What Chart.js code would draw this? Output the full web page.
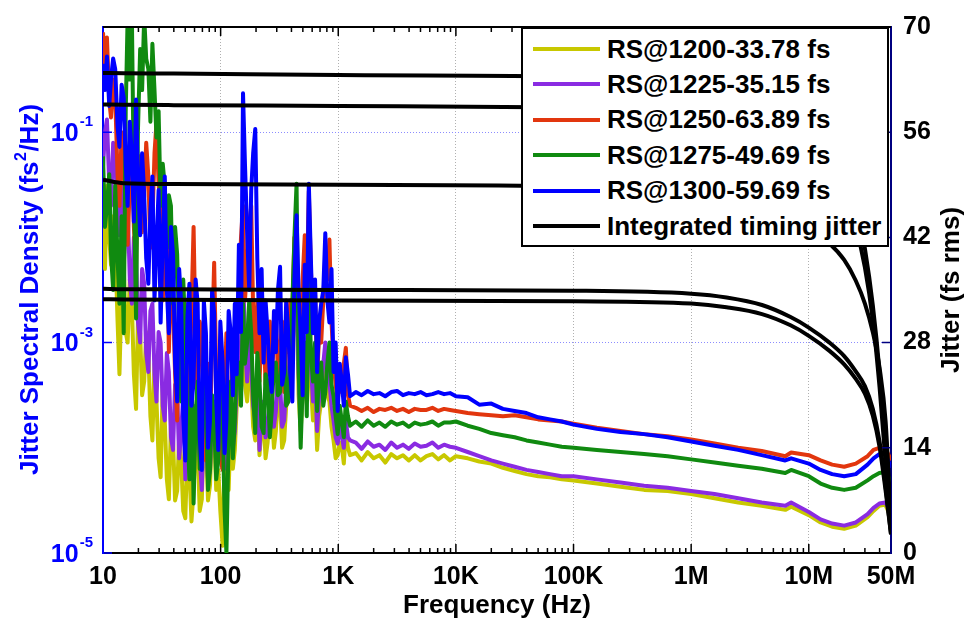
<!DOCTYPE html>
<html>
<head>
<meta charset="utf-8">
<script src="https://cdn.jsdelivr.net/npm/chart.js@4/dist/chart.umd.min.js"></script>
<style>
  body { margin: 0; background: #fff; }
  #wrap { position: relative; width: 965px; height: 621px; }
  #legend { position: absolute; left: 521px; top: 27px; width: 364px; height: 216px;
            border: 2px solid #000; background: #fff;
            font: bold 26px "Liberation Sans", Arial, sans-serif; color: #000; }
  .row { position: absolute; left: 10px; height: 36px; display: flex; align-items: center; white-space: nowrap; }
  .swatch { width: 67px; height: 4px; margin-right: 7px; }
</style>
</head>
<body>
<div id="wrap">
  <canvas id="chart" width="965" height="621"></canvas>
  <div id="legend"></div>
</div>
<script>
const FONT = '"Liberation Sans", Arial, sans-serif';

// Frequencies (Hz) shared by all spectral density traces
const psdFreq = [10, 10.4, 10.8, 11.3, 11.7, 12.2, 12.7, 13.3, 13.8, 14.4,
  15.0, 15.6, 16.2, 16.9, 17.6, 18.3, 19.1, 19.8, 20.7, 21.5,
  22.4, 23.3, 24.3, 25.3, 26.3, 27.4, 28.5, 29.7, 30.9, 32.2,
  33.5, 34.9, 36.3, 37.8, 39.4, 41.0, 42.7, 44.4, 46.2, 48.1,
  50.1, 52.2, 54.3, 56.5, 58.9, 61.3, 63.8, 66.4, 69.2, 72.0,
  75.0, 78.1, 81.3, 84.6, 88.1, 91.7, 95.5, 99.4, 104, 108,
  112, 117, 122, 127, 132, 137, 143, 149, 155, 161,
  168, 175, 182, 189, 197, 205, 214, 223, 232, 241,
  251, 262, 272, 284, 295, 307, 320, 333, 347, 361,
  376, 391, 407, 424, 442, 460, 479, 498, 519, 540,
  562, 585, 610, 635, 661, 688, 716, 746, 776, 808,
  841, 876, 912, 950, 989, 1030, 1070, 1115, 1160, 1209, 1260,
  1410, 1580, 1780, 2000, 2240, 2510, 2820, 3160, 3550, 3980, 4470, 5010, 5620, 6310, 7080, 7940, 8910, 1e4,
  1.26e4, 1.58e4, 2e4, 2.51e4, 3.16e4, 3.98e4, 5.01e4, 6.31e4, 7.94e4, 1e5,
  1.58e5, 2.51e5, 3.98e5, 6.31e5, 1e6, 1.58e6, 2.51e6, 3.98e6, 6.31e6, 7.08e6,
  1e7, 1.26e7, 1.58e7, 2e7, 2.51e7, 3.16e7, 3.55e7, 3.98e7, 4.47e7, 5e7];

// log10 of jitter spectral density (fs^2/Hz), one value per frequency above
const psd1200 = [-1.70, -2.30, -1.51, -2.00, -2.26, -1.80, -2.07, -2.80, -3.30, -2.50,
  -2.26, -2.90, -3.00, -2.40, -2.63, -3.30, -3.63, -2.80, -2.91, -3.50,
  -3.37, -2.90, -3.09, -3.70, -3.93, -3.20, -3.56, -4.10, -4.28, -3.40,
  -3.74, -4.30, -4.49, -3.80, -3.93, -4.50, -4.41, -3.90, -4.12, -4.60,
  -4.67, -4.00, -4.21, -4.70, -4.41, -3.90, -4.02, -4.60, -4.49, -3.90,
  -3.93, -4.50, -4.35, -3.80, -3.84, -4.40, -4.21, -4.60, -4.93, -4.10,
  -4.02, -4.40, -3.74, -4.20, -4.02, -3.60, -3.56, -3.20, -2.60, -3.40,
  -3.56, -3.10, -3.37, -3.80, -3.93, -3.50, -4.07, -3.80, -3.74, -4.10,
  -3.95, -3.60, -3.65, -4.00, -3.84, -3.50, -3.56, -4.00, -3.93, -3.60,
  -3.56, -3.20, -3.09, -2.70, -2.44, -3.50, -3.84, -3.50, -3.37, -3.20,
  -2.81, -3.40, -3.74, -3.50, -4.02, -3.70, -3.56, -3.40, -3.19, -3.50,
  -3.56, -3.80, -3.93, -4.10, -4.07, -3.95, -3.98, -4.15, -3.84, -4.00, -4.07,
  -4.05, -4.12, -4.04, -4.10, -4.07, -4.14, -4.06, -4.10, -4.07, -4.12, -4.07, -4.12, -4.08, -4.06, -4.11, -4.07, -4.12, -4.08,
  -4.10, -4.13, -4.15, -4.19, -4.22, -4.25, -4.27, -4.28, -4.30, -4.31,
  -4.34, -4.37, -4.40, -4.41, -4.44, -4.48, -4.52, -4.55, -4.59, -4.56,
  -4.64, -4.71, -4.75, -4.77, -4.74, -4.66, -4.60, -4.55, -4.54, -4.66];
const psd1225 = [-1.33, -1.00, -0.88, -1.50, -1.70, -1.10, -1.23, -1.80, -1.98, -1.50,
  -2.26, -1.90, -1.70, -2.40, -2.63, -2.00, -2.16, -2.80, -3.00, -2.30,
  -2.44, -3.10, -3.28, -2.70, -2.63, -3.30, -3.56, -2.90, -3.00, -3.60,
  -3.74, -3.10, -3.28, -3.90, -4.02, -3.40, -3.47, -4.10, -3.84, -3.50,
  -4.30, -3.70, -3.56, -4.30, -4.21, -3.60, -3.74, -4.10, -4.40, -3.70,
  -3.84, -4.30, -4.21, -3.60, -3.56, -4.10, -4.02, -3.50, -3.65, -4.20,
  -4.12, -3.60, -3.56, -4.00, -3.84, -3.40, -3.37, -3.00, -2.30, -3.00,
  -3.37, -2.80, -3.19, -3.60, -3.74, -3.30, -4.02, -3.60, -3.56, -3.90,
  -3.84, -3.50, -3.47, -3.80, -3.65, -3.30, -3.37, -3.80, -3.74, -3.40,
  -3.37, -3.00, -2.91, -2.50, -2.26, -3.30, -3.74, -3.40, -3.19, -3.00,
  -2.63, -3.20, -3.56, -3.30, -3.84, -3.50, -3.47, -3.20, -3.00, -3.30,
  -3.37, -3.60, -3.74, -3.90, -3.96, -3.80, -3.88, -4.00, -3.74, -3.90, -3.93,
  -3.95, -4.01, -3.94, -3.99, -3.97, -4.02, -3.95, -4.00, -3.97, -4.01, -3.96, -3.99, -3.98, -3.95, -4.00, -3.97, -3.99, -4.00,
  -4.04, -4.08, -4.12, -4.15, -4.18, -4.21, -4.23, -4.25, -4.27, -4.27,
  -4.30, -4.33, -4.36, -4.38, -4.41, -4.44, -4.48, -4.52, -4.55, -4.52,
  -4.61, -4.68, -4.72, -4.74, -4.71, -4.63, -4.57, -4.53, -4.52, -4.61];
const psd1250 = [-0.05, -0.40, -0.10, -0.70, -0.86, -0.50, -0.67, -1.40, -1.70, -1.00,
  -1.33, -1.80, -2.07, -1.50, -1.14, -1.90, -2.26, -1.30, -1.23, -1.95,
  -1.60, -1.10, -1.42, -2.10, -1.88, -1.20, -0.91, -1.50, -1.70, -2.60,
  -2.44, -1.90, -3.09, -2.30, -2.63, -3.30, -3.74, -2.50, -2.91, -3.40,
  -2.63, -3.80, -3.37, -2.70, -1.90, -3.00, -3.56, -2.80, -2.91, -3.70,
  -4.12, -3.20, -3.84, -3.00, -2.24, -3.30, -3.37, -4.10, -4.21, -3.50,
  -2.91, -3.90, -3.74, -3.00, -3.09, -2.60, -2.63, -2.00, -1.70, -2.60,
  -2.26, -1.90, -1.70, -2.70, -3.09, -2.60, -3.37, -2.90, -2.81, -3.40,
  -3.19, -2.80, -3.28, -3.00, -2.72, -3.30, -3.09, -2.80, -3.47, -3.00,
  -3.09, -2.60, -2.72, -2.00, -2.16, -2.70, -3.00, -2.40, -1.98, -2.50,
  -1.56, -2.30, -2.81, -2.50, -3.37, -2.90, -3.00, -2.60, -2.16, -2.40,
  -2.02, -2.80, -3.19, -3.40, -3.56, -3.30, -3.47, -3.20, -3.05, -3.50, -3.60,
  -3.62, -3.65, -3.62, -3.66, -3.63, -3.64, -3.62, -3.65, -3.63, -3.66, -3.63, -3.64, -3.64, -3.62, -3.65, -3.63, -3.64, -3.65,
  -3.67, -3.68, -3.69, -3.70, -3.69, -3.71, -3.73, -3.74, -3.75, -3.77,
  -3.81, -3.84, -3.87, -3.89, -3.92, -3.96, -4.00, -4.03, -4.08, -4.045,
  -4.07, -4.12, -4.16, -4.18, -4.15, -4.08, -4.02, -4.00, -4.00, -4.12];
const psd1275 = [-1.23, -1.90, -1.70, -1.40, -2.16, -2.50, -1.51, -2.20, -2.63, -1.80,
  -2.91, -0.80, 0.1, -0.50, 0.1, -1.50, -2.77, -1.00, -0.21, -0.60,
  0.1, -0.30, -0.40, -0.90, -0.16, -0.60, -1.05, -0.80, -1.70, -1.30,
  -1.51, -2.10, -1.60, -1.70, -2.63, -1.90, -2.16, -2.90, -3.56, -2.40,
  -2.91, -3.80, -4.30, -3.20, -4.53, -3.70, -3.37, -4.20, -4.02, -3.30,
  -3.56, -4.40, -4.21, -3.50, -3.74, -4.30, -4.12, -3.30, -3.74, -4.60,
  -5.00, -3.90, -3.37, -4.10, -3.74, -3.20, -3.19, -3.60, -2.63, -3.20,
  -3.00, -2.60, -2.91, -3.50, -3.86, -3.10, -3.37, -3.80, -3.86, -3.30,
  -3.37, -3.90, -3.65, -3.20, -3.19, -3.50, -3.47, -3.00, -3.05, -3.60,
  -3.56, -3.10, -2.63, -2.00, -1.49, -3.20, -4.00, -3.40, -3.00, -3.70,
  -2.26, -3.10, -3.37, -3.00, -3.65, -3.30, -3.19, -3.60, -3.47, -3.20,
  -3.00, -3.40, -3.51, -3.70, -3.87, -3.60, -3.74, -3.90, -3.56, -3.70, -3.79,
  -3.75, -3.80, -3.74, -3.79, -3.76, -3.80, -3.75, -3.78, -3.76, -3.80, -3.76, -3.78, -3.77, -3.75, -3.79, -3.76, -3.76, -3.75,
  -3.79, -3.82, -3.86, -3.88, -3.90, -3.93, -3.95, -3.97, -3.99, -4.00,
  -4.02, -4.04, -4.06, -4.08, -4.11, -4.14, -4.17, -4.20, -4.24, -4.21,
  -4.27, -4.34, -4.38, -4.40, -4.38, -4.31, -4.27, -4.24, -4.23, -4.32];
const psd1300 = [-0.35, -0.60, -0.28, -0.75, -0.49, -0.30, -0.40, -0.95, -1.14, -0.55,
  -0.67, -1.30, -1.70, -0.90, -1.23, -1.85, -0.69, -1.40, -1.98, -1.20,
  -1.60, -2.20, -2.44, -1.75, -1.42, -2.60, -2.07, -1.55, -2.81, -2.00,
  -1.42, -2.50, -2.91, -1.90, -2.16, -3.20, -3.56, -2.30, -2.63, -3.70,
  -4.12, -2.75, -2.44, -3.60, -3.37, -2.40, -2.63, -3.90, -4.21, -2.60,
  -2.91, -4.00, -3.74, -2.50, -2.72, -3.55, -4.02, -2.80, -3.19, -4.05,
  -3.74, -2.70, -2.91, -3.50, -2.63, -3.30, -2.07, -2.90, -0.63, -1.30,
  -1.95, -2.50, -1.55, -1.20, -0.97, -2.20, -2.91, -2.30, -3.19, -2.60,
  -2.91, -3.30, -3.47, -2.70, -3.09, -2.50, -2.28, -3.40, -3.28, -2.60,
  -2.91, -3.30, -3.56, -2.40, -1.79, -2.50, -2.91, -3.50, -2.26, -2.90,
  -1.49, -2.20, -2.91, -2.40, -3.28, -2.80, -2.63, -2.50, -1.96, -2.60,
  -2.81, -2.30, -3.28, -3.00, -3.65, -3.20, -3.37, -3.60, -3.14, -3.30, -3.51,
  -3.47, -3.50, -3.46, -3.49, -3.48, -3.51, -3.47, -3.46, -3.50, -3.48, -3.49, -3.47, -3.50, -3.49, -3.47, -3.49, -3.48, -3.51,
  -3.52, -3.59, -3.58, -3.63, -3.65, -3.67, -3.71, -3.73, -3.75, -3.78,
  -3.82, -3.85, -3.87, -3.90, -3.94, -3.98, -4.02, -4.07, -4.12, -4.10,
  -4.15, -4.21, -4.25, -4.27, -4.25, -4.16, -4.10, -4.06, -4.06, -4.19];

// Integrated timing jitter (fs rms), integrated from 50 MHz down to each frequency
const jitFreq = [10, 15, 40, 1e3, 1e5, 1e6, 2e6, 4e6, 7e6, 1e7, 1.5e7, 2e7, 2.5e7, 3e7, 3.5e7, 4e7, 4.5e7, 5e7];
const jit1200 = [33.78, 33.75, 33.7, 33.6, 33.5, 33.2, 32.7, 31.8, 30.3, 28.9, 26.9, 25.1, 23.2, 21.2, 18.3, 14.1, 8.3, 2.5];
const jit1225 = [35.15, 35.1, 35.1, 35.0, 34.9, 34.5, 34.0, 33.0, 31.4, 30.0, 28.0, 26.2, 24.2, 22.2, 19.2, 14.8, 8.8, 2.5];
const jit1250 = [63.89, 63.85, 63.8, 63.6, 63.4, 63.0, 62.5, 61.5, 60.0, 58.5, 55.5, 52.0, 47.0, 40.5, 33.0, 24.0, 13.0, 3.0];
const jit1275 = [49.69, 49.2, 49.1, 49.0, 48.8, 48.0, 47.2, 46.0, 44.6, 43.2, 41.2, 39.0, 36.3, 33.2, 29.4, 24.6, 17.5, 4.0];
const jit1300 = [59.69, 59.65, 59.6, 59.5, 59.3, 59.0, 58.5, 57.6, 56.0, 54.5, 51.5, 48.0, 43.5, 38.0, 31.0, 22.0, 12.0, 3.0];

const seriesNames = ['RS@1200-33.78 fs', 'RS@1225-35.15 fs', 'RS@1250-63.89 fs', 'RS@1275-49.69 fs', 'RS@1300-59.69 fs'];
const seriesColors = ['#c8c800', '#8a2be2', '#e2360e', '#108a10', '#0000ff'];
const jitterName = 'Integrated timing jitter';

const xTicks = [10, 100, 1e3, 1e4, 1e5, 1e6, 1e7, 5e7];
const xTickText = ['10', '100', '1K', '10K', '100K', '1M', '10M', '50M'];
const psdTicks = [1e-5, 1e-3, 1e-1];

const psdSets = [psd1200, psd1225, psd1250, psd1275, psd1300];
const jitSets = [jit1200, jit1225, jit1250, jit1275, jit1300];

// black integrated curves on top, then blue, green, red, purple, yellow
const datasets = [];
jitSets.forEach(j => {
  datasets.push({
    label: jitterName,
    data: jitFreq.map((f, k) => ({ x: f, y: j[k] })),
    borderColor: '#000',
    borderWidth: 4,
    cubicInterpolationMode: 'monotone',
    yAxisID: 'y2',
    order: 0
  });
});
for (let i = psdSets.length - 1; i >= 0; i--) {
  datasets.push({
    label: seriesNames[i],
    data: psdFreq.map((f, k) => ({ x: f, y: Math.pow(10, psdSets[i][k]) })),
    borderColor: seriesColors[i],
    borderWidth: 4,
    borderJoinStyle: 'round',
    yAxisID: 'y',
    order: psdSets.length - i
  });
}

// Frame, inward tick marks, superscript tick labels and axis titles
const decor = {
  id: 'decor',
  afterDraw(chart) {
    const { ctx, chartArea: a } = chart;
    const sx = chart.scales.x, sy = chart.scales.y, sr = chart.scales.y2;
    ctx.save();

    ctx.strokeStyle = '#000';
    ctx.lineWidth = 2;
    ctx.beginPath();
    ctx.moveTo(a.left, a.top);
    ctx.lineTo(a.right, a.top);
    ctx.stroke();

    ctx.lineWidth = 1.5;
    ctx.beginPath();
    for (let d = 10; d <= 1e7; d *= 10) {
      for (let m = 1; m <= 9; m++) {
        const f = m * d;
        if (f <= 10 || f >= 5e7) continue;
        const x = sx.getPixelForValue(f);
        const len = m === 1 ? 9 : 5;
        ctx.moveTo(x, a.bottom); ctx.lineTo(x, a.bottom - len);
        ctx.moveTo(x, a.top); ctx.lineTo(x, a.top + len);
      }
    }
    ctx.stroke();

    ctx.strokeStyle = '#000080';
    ctx.beginPath();
    for (let v = 14; v < 70; v += 14) {
      const y = sr.getPixelForValue(v);
      ctx.moveTo(a.right, y); ctx.lineTo(a.right - 9, y);
    }
    ctx.stroke();

    ctx.strokeStyle = '#0000ff';
    ctx.beginPath();
    psdTicks.forEach(v => {
      const y = sy.getPixelForValue(v);
      ctx.moveTo(a.left, y); ctx.lineTo(a.left + 9, y);
    });
    ctx.stroke();

    // left tick labels: 10 with raised exponent
    ctx.fillStyle = '#0000ff';
    ctx.textBaseline = 'middle';
    ctx.textAlign = 'right';
    psdTicks.forEach(v => {
      const y = sy.getPixelForValue(v);
      const exp = String(Math.round(Math.log10(v)));
      ctx.font = 'bold 15px ' + FONT;
      const ew = ctx.measureText(exp).width;
      ctx.fillText(exp, a.left - 10, y - 10);
      ctx.font = 'bold 25px ' + FONT;
      ctx.fillText('10', a.left - 11 - ew, y + 2);
    });

    // left title
    ctx.save();
    ctx.translate(31, (a.top + a.bottom) / 2);
    ctx.rotate(-Math.PI / 2);
    ctx.textAlign = 'left';
    const p1 = 'Jitter Spectral Density (fs', sup = '2', p2 = '/Hz)';
    ctx.font = 'bold 26px ' + FONT;
    const w1 = ctx.measureText(p1).width, w2 = ctx.measureText(p2).width;
    ctx.font = 'bold 16px ' + FONT;
    const ws = ctx.measureText(sup).width;
    const x0 = -(w1 + ws + w2) / 2;
    ctx.font = 'bold 26px ' + FONT;
    ctx.fillText(p1, x0, 0);
    ctx.fillText(p2, x0 + w1 + ws + 1, 0);
    ctx.font = 'bold 16px ' + FONT;
    ctx.fillText(sup, x0 + w1 + 0.5, -9);
    ctx.restore();

    // right title
    ctx.save();
    ctx.fillStyle = '#000';
    ctx.font = 'bold 26px ' + FONT;
    ctx.textAlign = 'center';
    ctx.translate(952, (a.top + a.bottom) / 2);
    ctx.rotate(-Math.PI / 2);
    ctx.fillText('Jitter (fs rms)', 0, 0);
    ctx.restore();

    // bottom title
    ctx.fillStyle = '#000';
    ctx.font = 'bold 26px ' + FONT;
    ctx.textAlign = 'center';
    ctx.fillText('Frequency (Hz)', (a.left + a.right) / 2, 606);

    ctx.restore();
  }
};

new Chart(document.getElementById('chart').getContext('2d'), {
  type: 'line',
  data: { datasets },
  options: {
    responsive: false,
    animation: false,
    devicePixelRatio: 1,
    layout: { padding: { top: 19, left: 0, right: 0, bottom: 0 } },
    elements: { point: { radius: 0 }, line: { tension: 0 } },
    plugins: { legend: { display: false }, tooltip: { enabled: false } },
    scales: {
      x: {
        type: 'logarithmic', position: 'bottom', min: 10, max: 5e7,
        afterBuildTicks: s => { s.ticks = xTicks.map(v => ({ value: v })); },
        afterFit: s => { s.height = 68; },
        ticks: {
          autoSkip: false, maxRotation: 0, padding: 9, color: '#000',
          font: { family: FONT, size: 25, weight: 'bold' },
          callback: v => xTickText[xTicks.indexOf(v)]
        },
        grid: {
          drawTicks: false, lineWidth: 1,
          color: c => (c.tick && (c.tick.value === 10 || c.tick.value === 5e7)) ? 'rgba(0,0,0,0)' : '#b0b0b0'
        },
        border: { color: '#000', width: 2, dash: [1, 2] }
      },
      y: {
        type: 'logarithmic', position: 'left', min: 1e-5, max: 1,
        afterBuildTicks: s => { s.ticks = psdTicks.map(v => ({ value: v })); },
        afterFit: s => { s.width = 103; },
        ticks: { display: false },
        grid: {
          drawTicks: false, lineWidth: 1,
          color: c => (c.tick && c.tick.value > 2e-5) ? '#8c8cff' : 'rgba(0,0,0,0)'
        },
        border: { color: '#0000ff', width: 2, dash: [1, 2] }
      },
      y2: {
        type: 'linear', position: 'right', min: 0, max: 70,
        afterFit: s => { s.width = 74; },
        ticks: { stepSize: 14, padding: 12, color: '#000', font: { family: FONT, size: 25, weight: 'bold' } },
        grid: { display: false, drawTicks: false },
        border: { color: '#000080', width: 2 }
      }
    }
  },
  plugins: [decor]
});

// legend box drawn over the plot, top right
const legendBox = document.getElementById('legend');
const legendNames = seriesNames.concat([jitterName]);
const legendColors = seriesColors.concat(['#000']);
legendNames.forEach((name, i) => {
  const row = document.createElement('div');
  row.className = 'row';
  row.style.top = (2 + i * 35.4) + 'px';
  const sw = document.createElement('span');
  sw.className = 'swatch';
  sw.style.background = legendColors[i];
  const txt = document.createElement('span');
  txt.textContent = name;
  row.appendChild(sw);
  row.appendChild(txt);
  legendBox.appendChild(row);
});
</script>
</body>
</html>
